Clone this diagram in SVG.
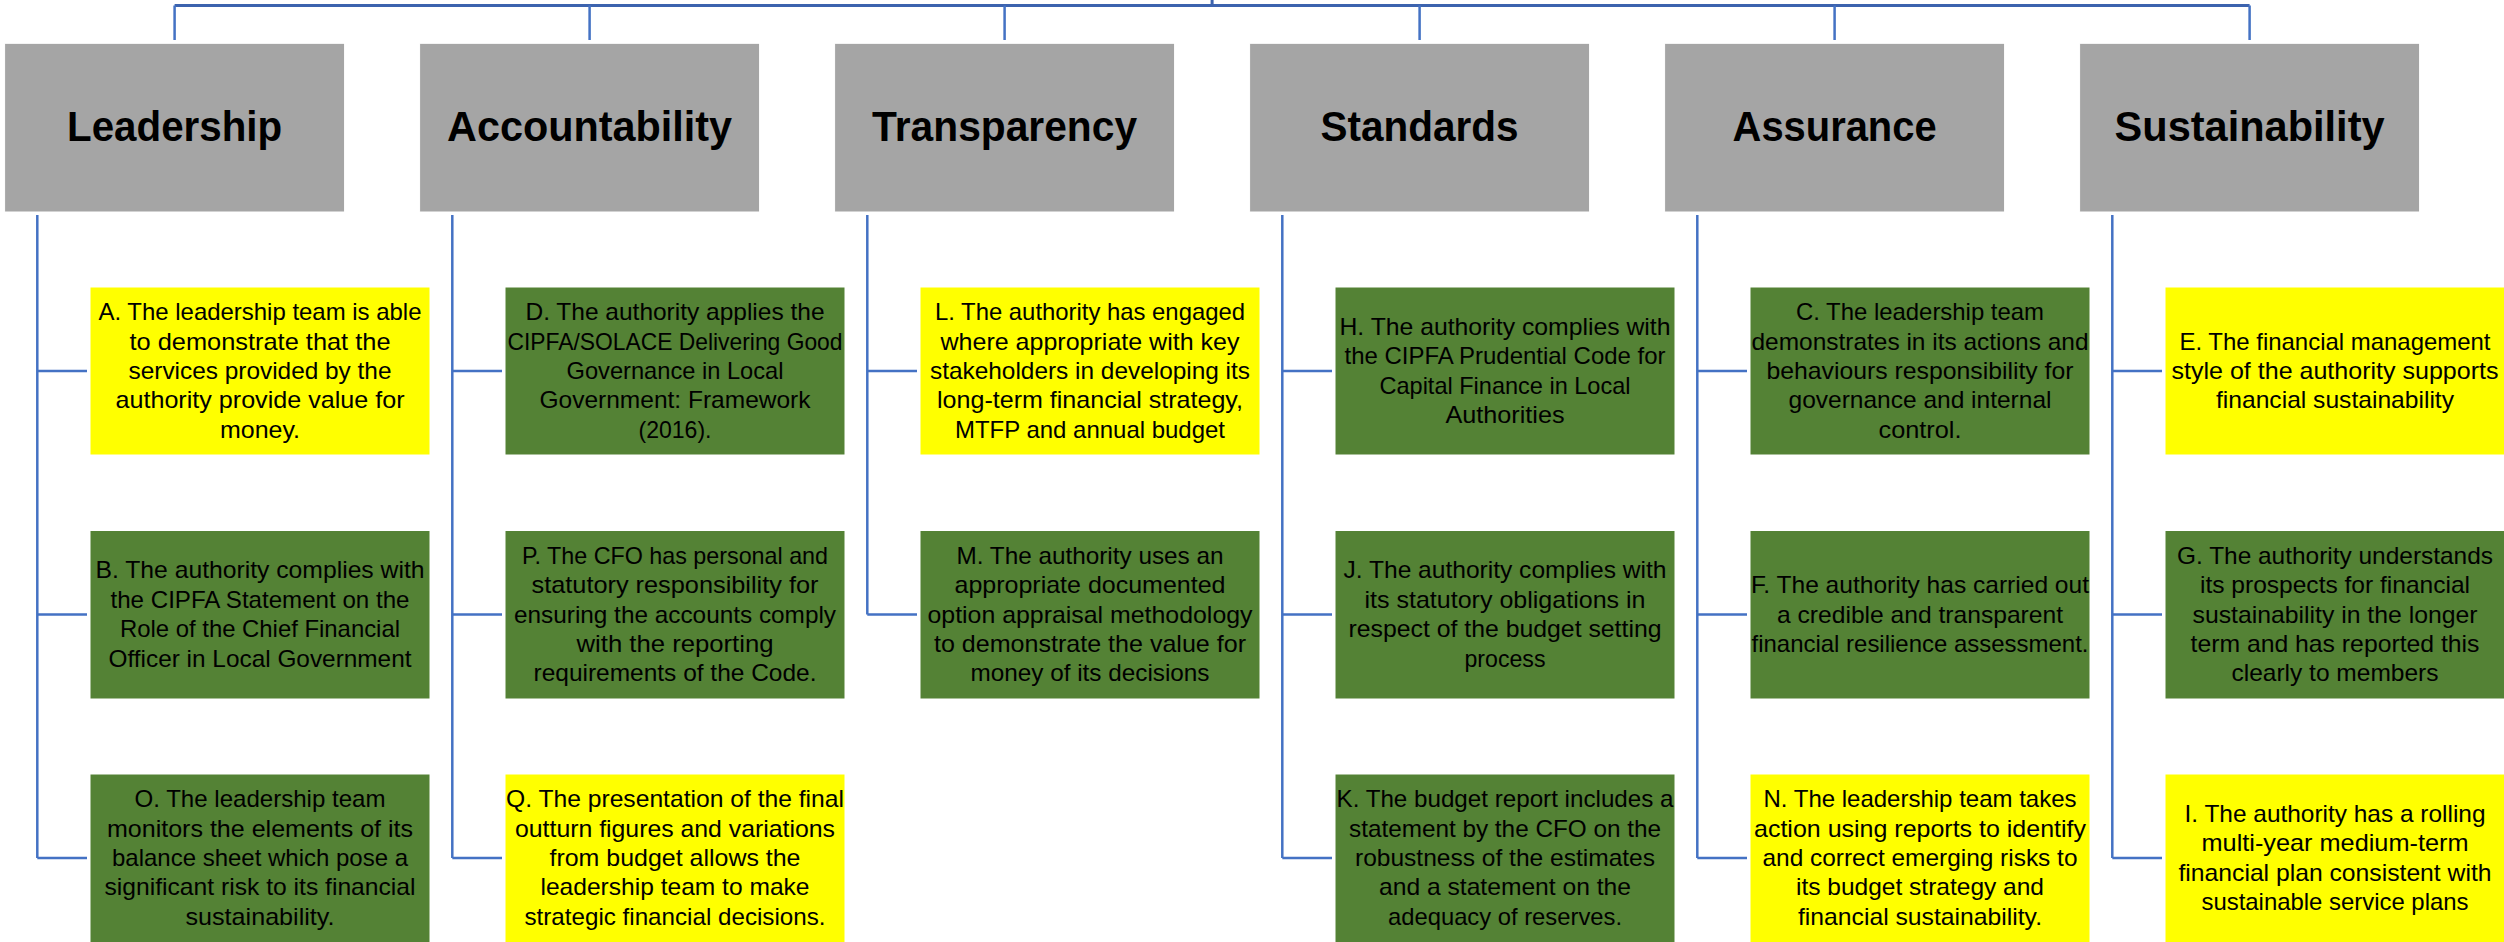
<svg xmlns="http://www.w3.org/2000/svg" width="2504" height="942" viewBox="0 0 2504 942">
  <style>
    .head rect { fill: #A5A5A5; stroke: #ffffff; stroke-width: 1; }
    .head text { font-family: "Liberation Sans", Arial, sans-serif; font-weight: bold; font-size: 43px; fill: #000; text-anchor: middle; }
    .item rect { stroke: #ffffff; stroke-width: 1; }
    .item.yellow rect { fill: #FFFF00; }
    .item.green rect { fill: #548235; }
    .item text { font-family: "Liberation Sans", Arial, sans-serif; font-size: 24px; fill: #000; text-anchor: middle; }
    .wire { fill: none; stroke: #4472C4; stroke-width: 2.5; }
    .trunk { fill: none; stroke: #3C63AE; stroke-width: 3; }
  </style>

  <!-- connectors -->
  <g id="connectors">
    <path class="trunk" d="M1212.1 0 V5.5 M174.6 5.5 H2249.6"/>
    <path class="wire" d="M174.6 5.5 V40 M589.6 5.5 V40 M1004.6 5.5 V40 M1419.6 5.5 V40 M1834.6 5.5 V40 M2249.6 5.5 V40"/>
    <!-- Leadership -->
    <path class="wire" d="M37.3 215 V858 M37.3 371 H87 M37.3 614.5 H87 M37.3 858 H87"/>
    <!-- Accountability -->
    <path class="wire" d="M452.3 215 V858 M452.3 371 H502 M452.3 614.5 H502 M452.3 858 H502"/>
    <!-- Transparency -->
    <path class="wire" d="M867.3 215 V614.5 M867.3 371 H917 M867.3 614.5 H917"/>
    <!-- Standards -->
    <path class="wire" d="M1282.3 215 V858 M1282.3 371 H1332 M1282.3 614.5 H1332 M1282.3 858 H1332"/>
    <!-- Assurance -->
    <path class="wire" d="M1697.3 215 V858 M1697.3 371 H1747 M1697.3 614.5 H1747 M1697.3 858 H1747"/>
    <!-- Sustainability -->
    <path class="wire" d="M2112.3 215 V858 M2112.3 371 H2162 M2112.3 614.5 H2162 M2112.3 858 H2162"/>
  </g>

  <!-- principle headers -->
  <g id="leadership" class="head">
    <rect x="4.6" y="43.3" width="340" height="168.7"/>
    <text x="174.6" y="141" textLength="215" lengthAdjust="spacingAndGlyphs">Leadership</text>
  </g>
  <g id="accountability" class="head">
    <rect x="419.6" y="43.3" width="340" height="168.7"/>
    <text x="589.6" y="141" textLength="285" lengthAdjust="spacingAndGlyphs">Accountability</text>
  </g>
  <g id="transparency" class="head">
    <rect x="834.6" y="43.3" width="340" height="168.7"/>
    <text x="1004.6" y="141" textLength="265" lengthAdjust="spacingAndGlyphs">Transparency</text>
  </g>
  <g id="standards" class="head">
    <rect x="1249.6" y="43.3" width="340" height="168.7"/>
    <text x="1419.6" y="141" textLength="198" lengthAdjust="spacingAndGlyphs">Standards</text>
  </g>
  <g id="assurance" class="head">
    <rect x="1664.6" y="43.3" width="340" height="168.7"/>
    <text x="1834.6" y="141" textLength="204" lengthAdjust="spacingAndGlyphs">Assurance</text>
  </g>
  <g id="sustainability" class="head">
    <rect x="2079.6" y="43.3" width="340" height="168.7"/>
    <text x="2249.6" y="141" textLength="270" lengthAdjust="spacingAndGlyphs">Sustainability</text>
  </g>

  <!-- Leadership items -->
  <g id="item-a" class="item yellow">
    <rect x="90" y="287" width="340" height="168"/>
    <text x="260" y="320.2" textLength="323" lengthAdjust="spacingAndGlyphs">A. The leadership team is able</text>
    <text x="260" y="349.6" textLength="261" lengthAdjust="spacingAndGlyphs">to demonstrate that the</text>
    <text x="260" y="379" textLength="263" lengthAdjust="spacingAndGlyphs">services provided by the</text>
    <text x="260" y="408.4" textLength="289" lengthAdjust="spacingAndGlyphs">authority provide value for</text>
    <text x="260" y="437.8" textLength="80" lengthAdjust="spacingAndGlyphs">money.</text>
  </g>
  <g id="item-b" class="item green">
    <rect x="90" y="530.5" width="340" height="168.5"/>
    <text x="260" y="578.4" textLength="329" lengthAdjust="spacingAndGlyphs">B. The authority complies with</text>
    <text x="260" y="607.8" textLength="299" lengthAdjust="spacingAndGlyphs">the CIPFA Statement on the</text>
    <text x="260" y="637.2" textLength="280" lengthAdjust="spacingAndGlyphs">Role of the Chief Financial</text>
    <text x="260" y="666.6" textLength="303" lengthAdjust="spacingAndGlyphs">Officer in Local Government</text>
  </g>
  <g id="item-o" class="item green">
    <rect x="90" y="774" width="340" height="170"/>
    <text x="260" y="807.2" textLength="251" lengthAdjust="spacingAndGlyphs">O. The leadership team</text>
    <text x="260" y="836.6" textLength="306" lengthAdjust="spacingAndGlyphs">monitors the elements of its</text>
    <text x="260" y="866" textLength="296" lengthAdjust="spacingAndGlyphs">balance sheet which pose a</text>
    <text x="260" y="895.4" textLength="311" lengthAdjust="spacingAndGlyphs">significant risk to its financial</text>
    <text x="260" y="924.8" textLength="149" lengthAdjust="spacingAndGlyphs">sustainability.</text>
  </g>

  <!-- Accountability items -->
  <g id="item-d" class="item green">
    <rect x="505" y="287" width="340" height="168"/>
    <text x="675" y="320.2" textLength="299" lengthAdjust="spacingAndGlyphs">D. The authority applies the</text>
    <text x="675" y="349.6" textLength="335" lengthAdjust="spacingAndGlyphs">CIPFA/SOLACE Delivering Good</text>
    <text x="675" y="379" textLength="217" lengthAdjust="spacingAndGlyphs">Governance in Local</text>
    <text x="675" y="408.4" textLength="271" lengthAdjust="spacingAndGlyphs">Government: Framework</text>
    <text x="675" y="437.8" textLength="73" lengthAdjust="spacingAndGlyphs">(2016).</text>
  </g>
  <g id="item-p" class="item green">
    <rect x="505" y="530.5" width="340" height="168.5"/>
    <text x="675" y="563.7" textLength="306" lengthAdjust="spacingAndGlyphs">P. The CFO has personal and</text>
    <text x="675" y="593.1" textLength="287" lengthAdjust="spacingAndGlyphs">statutory responsibility for</text>
    <text x="675" y="622.5" textLength="322" lengthAdjust="spacingAndGlyphs">ensuring the accounts comply</text>
    <text x="675" y="651.9" textLength="197" lengthAdjust="spacingAndGlyphs">with the reporting</text>
    <text x="675" y="681.3" textLength="283" lengthAdjust="spacingAndGlyphs">requirements of the Code.</text>
  </g>
  <g id="item-q" class="item yellow">
    <rect x="505" y="774" width="340" height="170"/>
    <text x="675" y="807.2" textLength="338" lengthAdjust="spacingAndGlyphs">Q. The presentation of the final</text>
    <text x="675" y="836.6" textLength="320" lengthAdjust="spacingAndGlyphs">outturn figures and variations</text>
    <text x="675" y="866" textLength="251" lengthAdjust="spacingAndGlyphs">from budget allows the</text>
    <text x="675" y="895.4" textLength="269" lengthAdjust="spacingAndGlyphs">leadership team to make</text>
    <text x="675" y="924.8" textLength="301" lengthAdjust="spacingAndGlyphs">strategic financial decisions.</text>
  </g>

  <!-- Transparency items -->
  <g id="item-l" class="item yellow">
    <rect x="920" y="287" width="340" height="168"/>
    <text x="1090" y="320.2" textLength="310" lengthAdjust="spacingAndGlyphs">L. The authority has engaged</text>
    <text x="1090" y="349.6" textLength="299" lengthAdjust="spacingAndGlyphs">where appropriate with key</text>
    <text x="1090" y="379" textLength="320" lengthAdjust="spacingAndGlyphs">stakeholders in developing its</text>
    <text x="1090" y="408.4" textLength="306" lengthAdjust="spacingAndGlyphs">long-term financial strategy,</text>
    <text x="1090" y="437.8" textLength="270" lengthAdjust="spacingAndGlyphs">MTFP and annual budget</text>
  </g>
  <g id="item-m" class="item green">
    <rect x="920" y="530.5" width="340" height="168.5"/>
    <text x="1090" y="563.7" textLength="267" lengthAdjust="spacingAndGlyphs">M. The authority uses an</text>
    <text x="1090" y="593.1" textLength="271" lengthAdjust="spacingAndGlyphs">appropriate documented</text>
    <text x="1090" y="622.5" textLength="325" lengthAdjust="spacingAndGlyphs">option appraisal methodology</text>
    <text x="1090" y="651.9" textLength="312" lengthAdjust="spacingAndGlyphs">to demonstrate the value for</text>
    <text x="1090" y="681.3" textLength="239" lengthAdjust="spacingAndGlyphs">money of its decisions</text>
  </g>

  <!-- Standards items -->
  <g id="item-h" class="item green">
    <rect x="1335" y="287" width="340" height="168"/>
    <text x="1505" y="334.9" textLength="331" lengthAdjust="spacingAndGlyphs">H. The authority complies with</text>
    <text x="1505" y="364.3" textLength="321" lengthAdjust="spacingAndGlyphs">the CIPFA Prudential Code for</text>
    <text x="1505" y="393.7" textLength="251" lengthAdjust="spacingAndGlyphs">Capital Finance in Local</text>
    <text x="1505" y="423.1" textLength="119" lengthAdjust="spacingAndGlyphs">Authorities</text>
  </g>
  <g id="item-j" class="item green">
    <rect x="1335" y="530.5" width="340" height="168.5"/>
    <text x="1505" y="578.4" textLength="323" lengthAdjust="spacingAndGlyphs">J. The authority complies with</text>
    <text x="1505" y="607.8" textLength="281" lengthAdjust="spacingAndGlyphs">its statutory obligations in</text>
    <text x="1505" y="637.2" textLength="313" lengthAdjust="spacingAndGlyphs">respect of the budget setting</text>
    <text x="1505" y="666.6" textLength="81" lengthAdjust="spacingAndGlyphs">process</text>
  </g>
  <g id="item-k" class="item green">
    <rect x="1335" y="774" width="340" height="170"/>
    <text x="1505" y="807.2" textLength="337" lengthAdjust="spacingAndGlyphs">K. The budget report includes a</text>
    <text x="1505" y="836.6" textLength="312" lengthAdjust="spacingAndGlyphs">statement by the CFO on the</text>
    <text x="1505" y="866" textLength="300" lengthAdjust="spacingAndGlyphs">robustness of the estimates</text>
    <text x="1505" y="895.4" textLength="252" lengthAdjust="spacingAndGlyphs">and a statement on the</text>
    <text x="1505" y="924.8" textLength="234" lengthAdjust="spacingAndGlyphs">adequacy of reserves.</text>
  </g>

  <!-- Assurance items -->
  <g id="item-c" class="item green">
    <rect x="1750" y="287" width="340" height="168"/>
    <text x="1920" y="320.2" textLength="248" lengthAdjust="spacingAndGlyphs">C. The leadership team</text>
    <text x="1920" y="349.6" textLength="337" lengthAdjust="spacingAndGlyphs">demonstrates in its actions and</text>
    <text x="1920" y="379" textLength="307" lengthAdjust="spacingAndGlyphs">behaviours responsibility for</text>
    <text x="1920" y="408.4" textLength="263" lengthAdjust="spacingAndGlyphs">governance and internal</text>
    <text x="1920" y="437.8" textLength="83" lengthAdjust="spacingAndGlyphs">control.</text>
  </g>
  <g id="item-f" class="item green">
    <rect x="1750" y="530.5" width="340" height="168.5"/>
    <text x="1920" y="593.1" textLength="338" lengthAdjust="spacingAndGlyphs">F. The authority has carried out</text>
    <text x="1920" y="622.5" textLength="286" lengthAdjust="spacingAndGlyphs">a credible and transparent</text>
    <text x="1920" y="651.9" textLength="337" lengthAdjust="spacingAndGlyphs">financial resilience assessment.</text>
  </g>
  <g id="item-n" class="item yellow">
    <rect x="1750" y="774" width="340" height="170"/>
    <text x="1920" y="807.2" textLength="313" lengthAdjust="spacingAndGlyphs">N. The leadership team takes</text>
    <text x="1920" y="836.6" textLength="332" lengthAdjust="spacingAndGlyphs">action using reports to identify</text>
    <text x="1920" y="866" textLength="315" lengthAdjust="spacingAndGlyphs">and correct emerging risks to</text>
    <text x="1920" y="895.4" textLength="248" lengthAdjust="spacingAndGlyphs">its budget strategy and</text>
    <text x="1920" y="924.8" textLength="244" lengthAdjust="spacingAndGlyphs">financial sustainability.</text>
  </g>

  <!-- Sustainability items -->
  <g id="item-e" class="item yellow">
    <rect x="2165" y="287" width="340" height="168"/>
    <text x="2335" y="349.6" textLength="311" lengthAdjust="spacingAndGlyphs">E. The financial management</text>
    <text x="2335" y="379" textLength="327" lengthAdjust="spacingAndGlyphs">style of the authority supports</text>
    <text x="2335" y="408.4" textLength="238" lengthAdjust="spacingAndGlyphs">financial sustainability</text>
  </g>
  <g id="item-g" class="item green">
    <rect x="2165" y="530.5" width="340" height="168.5"/>
    <text x="2335" y="563.7" textLength="316" lengthAdjust="spacingAndGlyphs">G. The authority understands</text>
    <text x="2335" y="593.1" textLength="270" lengthAdjust="spacingAndGlyphs">its prospects for financial</text>
    <text x="2335" y="622.5" textLength="285" lengthAdjust="spacingAndGlyphs">sustainability in the longer</text>
    <text x="2335" y="651.9" textLength="289" lengthAdjust="spacingAndGlyphs">term and has reported this</text>
    <text x="2335" y="681.3" textLength="207" lengthAdjust="spacingAndGlyphs">clearly to members</text>
  </g>
  <g id="item-i" class="item yellow">
    <rect x="2165" y="774" width="340" height="170"/>
    <text x="2335" y="821.9" textLength="301" lengthAdjust="spacingAndGlyphs">I. The authority has a rolling</text>
    <text x="2335" y="851.3" textLength="267" lengthAdjust="spacingAndGlyphs">multi-year medium-term</text>
    <text x="2335" y="880.7" textLength="313" lengthAdjust="spacingAndGlyphs">financial plan consistent with</text>
    <text x="2335" y="910.1" textLength="267" lengthAdjust="spacingAndGlyphs">sustainable service plans</text>
  </g>
</svg>
